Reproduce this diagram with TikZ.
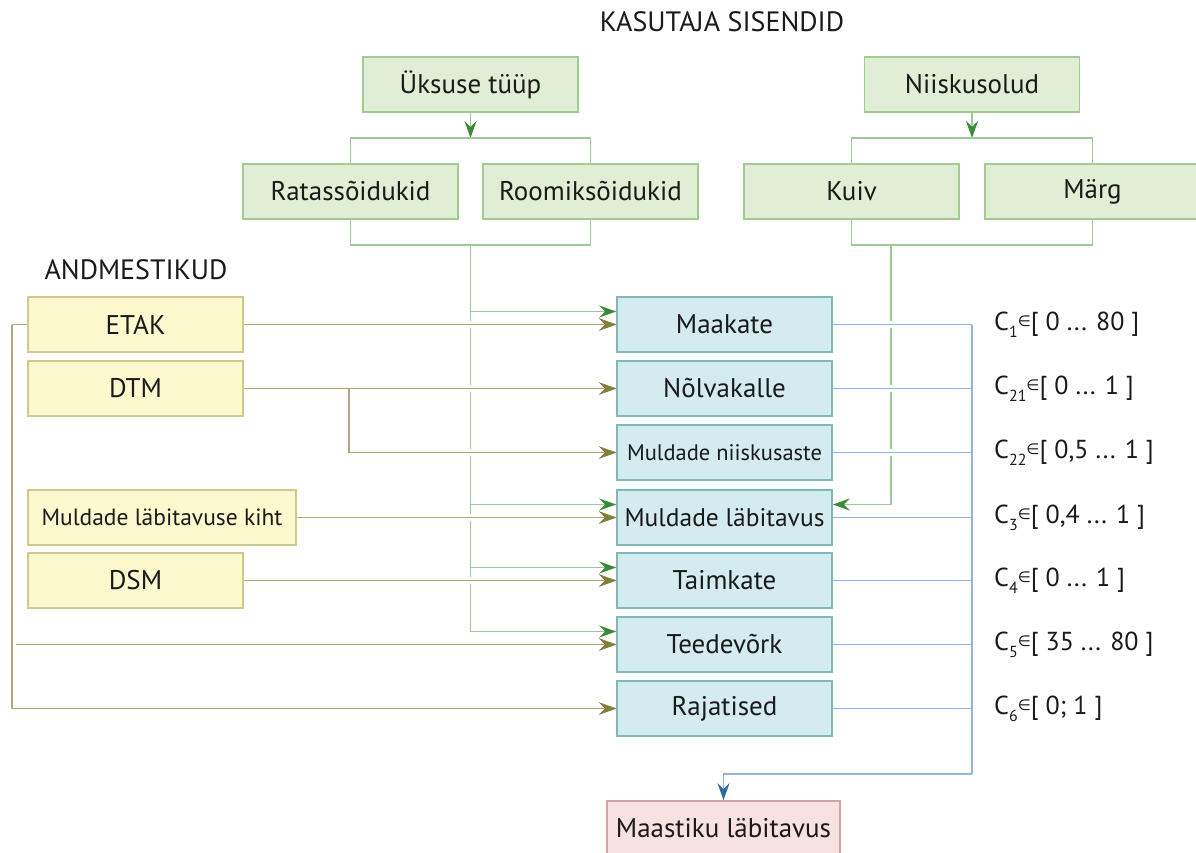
\documentclass[tikz,border=0pt]{standalone}
\usepackage{fontspec}
\setmainfont{PT Sans}
\newfontfamily\symfont{DejaVu Sans}
\usetikzlibrary{arrows.meta,calc}
\definecolor{gfill}{HTML}{DFEED4}
\definecolor{gdraw}{HTML}{A2CA93}
\definecolor{gline}{HTML}{9FC99B}
\definecolor{garrow}{HTML}{3A8A3A}
\definecolor{yfill}{HTML}{FDF9CF}
\definecolor{ydraw}{HTML}{CFC98E}
\definecolor{oline}{HTML}{ADA97B}
\definecolor{oarrow}{HTML}{847E3C}
\definecolor{bfill}{HTML}{D4EBF0}
\definecolor{bdraw}{HTML}{80B8B8}
\definecolor{bline}{HTML}{92B3DB}
\definecolor{barrow}{HTML}{2F6AA5}
\definecolor{pfill}{HTML}{F7E1E1}
\definecolor{pdraw}{HTML}{D3A3A3}
\definecolor{txt}{HTML}{1A1A1A}
\newcommand{\elem}{{\symfont\fontsize{15}{15}\selectfont\raisebox{4pt}{∈}}}
\newcommand{\csub}[1]{\raisebox{-7pt}{\fontsize{16}{16}\selectfont #1}}
\tikzset{
  box/.style={rectangle, minimum width=215pt, minimum height=55pt, line width=1.6pt, inner sep=0pt, text=txt, font=\fontsize{27}{30}\selectfont},
  gbox/.style={box, fill=gfill, draw=gdraw},
  ybox/.style={box, fill=yfill, draw=ydraw},
  bbox/.style={box, fill=bfill, draw=bdraw},
  pbox/.style={box, fill=pfill, draw=pdraw},
  tip/.style={-{Stealth[length=17pt,width=12pt,inset=6pt,color=#1]}},
  glink/.style={draw=gline, line width=1.7pt},
  garr/.style={glink, tip=garrow},
  olink/.style={draw=oline, line width=1.7pt, preaction={draw=white, line width=7pt}},
  oarr/.style={olink, tip=oarrow},
  blink/.style={draw=bline, line width=1.7pt, preaction={draw=white, line width=7pt}},
  barr/.style={draw=bline, line width=1.7pt, tip=barrow},
  heading/.style={text=txt, font=\fontsize{28}{31}\selectfont, inner sep=0pt},
  clabel/.style={text=txt, font=\fontsize{26}{29}\selectfont, inner sep=0pt, anchor=west}
}
\begin{document}
\begin{tikzpicture}[x=1pt,y=-1pt]
\useasboundingbox (0,0) rectangle (1196,852);
% headings
\node[heading] (hk) at (722,22) {KASUTAJA SISENDID};
\node[heading] (ha) at (136,270) {ANDMESTIKUD};
% user inputs
\node[gbox] (uk) at (470.5,84.5) {Üksuse tüüp};
\node[gbox] (ni) at (972,84.5) {Niiskusolud};
\node[gbox] (rat) at (350.5,191.5) {Ratassõidukid};
\node[gbox] (room) at (590.5,191.5) {Roomiksõidukid};
\node[gbox] (kuiv) at (851.5,191.5) {Kuiv};
\node[gbox] (marg) at (1092.5,191.5) {Märg};
% data sets
\node[ybox] (etak) at (135.5,324.5) {ETAK};
\node[ybox] (dtm) at (135.5,388.5) {DTM};
\node[ybox, minimum width=268pt, font=\fontsize{23.5}{26}\selectfont] (mk) at (162,517.5) {Muldade läbitavuse kiht};
\node[ybox] (dsm) at (135.5,580.5) {DSM};
% criteria
\node[bbox] (maak) at (724.5,324.5) {Maakate};
\node[bbox] (nolv) at (724.5,388.5) {Nõlvakalle};
\node[bbox, font=\fontsize{22.5}{25}\selectfont] (niisk) at (724.5,452.5) {Muldade niiskusaste};
\node[bbox, font=\fontsize{25.5}{28}\selectfont] (lab) at (724.5,517.5) {Muldade läbitavus};
\node[bbox] (taim) at (724.5,580.5) {Taimkate};
\node[bbox] (teed) at (724.5,644.5) {Teedevõrk};
\node[bbox] (raj) at (724.5,708.5) {Rajatised};
% result
\node[pbox, minimum width=233pt] (res) at (723.5,828.5) {Maastiku läbitavus};
% labels
\node[clabel] (c1) at (994,324.5) {C\csub{1}\elem[ 0 ... 80 ]};
\node[clabel] (c21) at (994,388.5) {C\csub{21}\elem[ 0 ... 1 ]};
\node[clabel] (c22) at (994,452.5) {C\csub{22}\elem[ 0,5 ... 1 ]};
\node[clabel] (c3) at (994,517.5) {C\csub{3}\elem[ 0,4 ... 1 ]};
\node[clabel] (c4) at (994,580.5) {C\csub{4}\elem[ 0 ... 1 ]};
\node[clabel] (c5) at (994,644.5) {C\csub{5}\elem[ 35 ... 80 ]};
\node[clabel] (c6) at (994,708.5) {C\csub{6}\elem[ 0; 1 ]};
% coordinates
\coordinate (ukb) at (470.5,138);
\coordinate (ukj) at (470.5,245);
\coordinate (nib) at (972,138);
\coordinate (kj) at (891,245);
\coordinate (ls) at (12,324.5);
\coordinate (dj) at (349,388.5);
\coordinate (bj) at (972,324.5);
\coordinate (bb) at (972,774);
% green: vehicle type
\draw[garr] (uk.south) -- (ukb);
\draw[glink] (rat.north) |- (ukb) -| (room.north);
\draw[glink] (rat.south) |- (ukj) -| (room.south);
\draw[garr] (ukj) |- ([yshift=13pt]maak.west);
\draw[garr] (ukj) |- ([yshift=13pt]lab.west);
\draw[garr] (ukj) |- ([yshift=13pt]taim.west);
\draw[garr] (ukj) |- ([yshift=13pt]teed.west);
% green: moisture
\draw[garr] (ni.south) -- (nib);
\draw[glink] (kuiv.north) |- (nib) -| (marg.north);
\draw[glink] (kuiv.south) |- (kj) -| (marg.south);
\draw[garr] (kj) |- ([yshift=13pt]lab.east);
% olive: data sets
\draw[oarr] (etak.east) -- (maak.west);
\draw[oarr] (dtm.east) -- (nolv.west);
\draw[oarr] (dj) |- (niisk.west);
\draw[oarr] (mk.east) -- (lab.west);
\draw[oarr] (dsm.east) -- (taim.west);
\draw[olink] (etak.west) -- (ls);
\draw[oarr] (ls) |- (teed.west);
\draw[oarr] (ls) |- (raj.west);
% blue: to result
\draw[blink] (maak.east) -- (bj);
\draw[blink] (nolv.east) -- (nolv.east -| bj);
\draw[blink] (niisk.east) -- (niisk.east -| bj);
\draw[blink] (lab.east) -- (lab.east -| bj);
\draw[blink] (taim.east) -- (taim.east -| bj);
\draw[blink] (teed.east) -- (teed.east -| bj);
\draw[blink] (raj.east) -- (raj.east -| bj);
\draw[draw=bline, line width=1.7pt] (bj) -- (bb);
\draw[barr] (bb) -| (res.north);
\end{tikzpicture}
\end{document}
